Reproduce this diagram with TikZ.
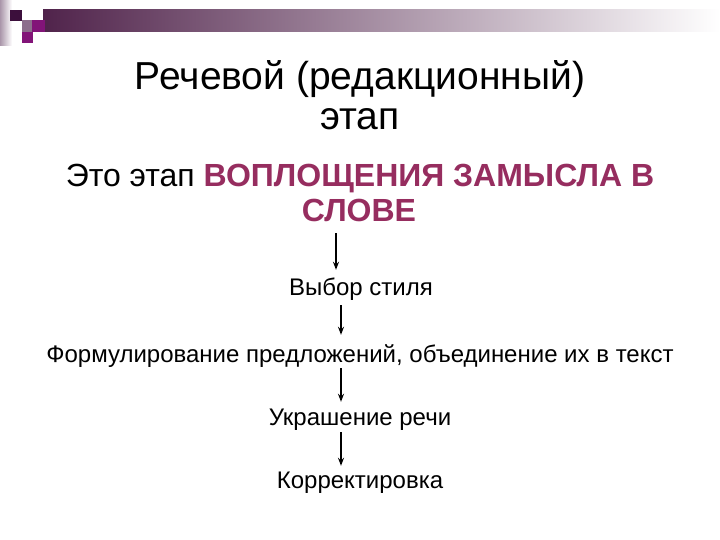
\documentclass[tikz,border=0pt]{standalone}
\usepackage{fontspec}
\setmainfont{Liberation Sans}
\usetikzlibrary{arrows.meta}
\definecolor{accent}{RGB}{150,45,95}
\definecolor{darksq}{RGB}{60,15,60}
\definecolor{magsq}{RGB}{130,20,120}
\definecolor{graysq}{RGB}{140,110,140}
\definecolor{barleft}{RGB}{80,35,75}
\tikzset{
  titletext/.style={inner sep=0pt, font=\fontsize{39}{44}\selectfont},
  subtext/.style={inner sep=0pt, anchor=base, text height=23pt, text depth=7pt, font=\fontsize{32}{36}\selectfont},
  steptext/.style={inner sep=0pt, anchor=base, text height=18pt, text depth=6pt, font=\fontsize{24}{28}\selectfont},
  arr/.style={-{Stealth[length=8pt,width=6pt]}, line width=1.3pt}
}
\begin{document}
\begin{tikzpicture}[x=1pt,y=-1pt]
\useasboundingbox (0,0) rectangle (720,540);
\fill[white] (0,0) rectangle (720,540);
% decoration
\shade[left color={rgb,255:red,170;green,150;blue,170}, right color=white] (0,0) rectangle (12,46);
\shade[left color=barleft, middle color={rgb,255:red,165;green,160;blue,165}, right color=white] (43,10) rectangle (720,32);
\fill[graysq] (22,20) rectangle (32,32);
\fill[darksq] (10,10) rectangle (22,21);
\fill[magsq] (32,20) rectangle (45,32);
\fill[magsq] (22,32) rectangle (33,43);
% title
\node[titletext] (t1) at (360,79) {Речевой (редакционный)};
\node[titletext] (t2) at (360,119) {этап};
% subtitle
\node[subtext] (sub1) at (360,187) {Это этап \textbf{\textcolor{accent}{ВОПЛОЩЕНИЯ ЗАМЫСЛА В}}};
\node[subtext] (sub2) at (359,222) {\textbf{\textcolor{accent}{СЛОВЕ}}};
% steps
\node[steptext] (s1) at (361,295) {Выбор стиля};
\node[steptext] (s2) at (360,362) {Формулирование предложений, объединение их в текст};
\node[steptext] (s3) at (360,425) {Украшение речи};
\node[steptext] (s4) at (360,488) {Корректировка};
\coordinate (ax1) at (336,0);
\coordinate (ax) at (341,0);
\draw[arr, shorten <=4pt, shorten >=7pt] (sub2.south -| ax1) -- (s1.north -| ax1);
\draw[arr, shorten <=4pt, shorten >=9pt] (s1.south -| ax) -- (s2.north -| ax);
\draw[arr, shorten <=0pt, shorten >=5pt] (s2.south -| ax) -- (s3.north -| ax);
\draw[arr, shorten <=1pt, shorten >=4pt] (s3.south -| ax) -- (s4.north -| ax);
\end{tikzpicture}
\end{document}
